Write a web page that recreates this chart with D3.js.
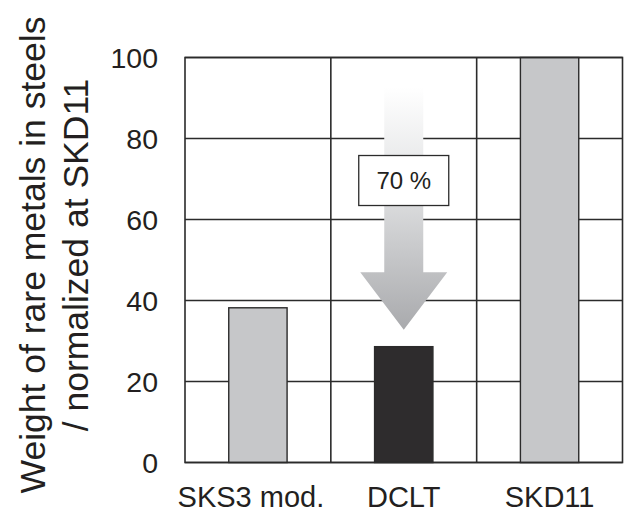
<!DOCTYPE html>
<html>
<head>
<meta charset="utf-8">
<script src="https://cdn.jsdelivr.net/npm/d3@7"></script>
<style>
  html, body { margin: 0; padding: 0; background: #fff; }
  svg { display: block; }
  text { font-family: "Liberation Sans", Arial, Helvetica, sans-serif; fill: #231f20; }
</style>
</head>
<body>
<svg id="chart" width="629" height="514"></svg>
<script>
// Steel grades and their rare-metal weight, normalized to SKD11 = 100
const categories = ["SKS3 mod.", "DCLT", "SKD11"];
const values = [38.2, 28.6, 100];
const barColors = ["#c6c7c9", "#2e2c2d", "#c6c7c9"];
const yTicks = [0, 20, 40, 60, 80, 100];
const reductionLabel = "70 %";
const yTitleLines = ["Weight of rare metals in steels", "/ normalized at SKD11"];

(function () {
  const svg = d3.select("#chart");
  const plotLeft = 185, plotRight = 622.5, plotTop = 57.5, plotBottom = 462.5;
  const ink = "#2b2b2b";

  const x = d3.scaleBand().domain(categories).range([plotLeft, plotRight]).padding(0);
  const y = d3.scaleLinear().domain([0, 100]).range([plotBottom, plotTop]);

  // horizontal grid
  svg.append("g").selectAll("line").data(yTicks).join("line")
    .attr("x1", plotLeft).attr("x2", plotRight)
    .attr("y1", d => y(d)).attr("y2", d => y(d))
    .attr("stroke", ink).attr("stroke-width", 1.6);

  // column separators
  svg.append("g").selectAll("line").data(categories.slice(1)).join("line")
    .attr("x1", d => x(d)).attr("x2", d => x(d))
    .attr("y1", plotTop).attr("y2", plotBottom)
    .attr("stroke", ink).attr("stroke-width", 1.6);

  // reduction arrow over the DCLT column
  const defs = svg.append("defs");
  const grad = defs.append("linearGradient").attr("id", "arrowFill")
    .attr("x1", 0).attr("y1", 0).attr("x2", 0).attr("y2", 1);
  grad.append("stop").attr("offset", "0%").attr("stop-color", "#ffffff");
  grad.append("stop").attr("offset", "35%").attr("stop-color", "#e6e7e8");
  grad.append("stop").attr("offset", "100%").attr("stop-color", "#a9aaad");

  const ac = x("DCLT") + x.bandwidth() / 2;
  const shaftHalf = 19.5, headHalf = 43.5;
  const aTop = y(92.7), aHeadStart = y(47), aTip = y(32.8);
  svg.append("path")
    .attr("d", [
      "M", ac - shaftHalf, aTop,
      "L", ac + shaftHalf, aTop,
      "L", ac + shaftHalf, aHeadStart,
      "L", ac + headHalf, aHeadStart,
      "L", ac, aTip,
      "L", ac - headHalf, aHeadStart,
      "L", ac - shaftHalf, aHeadStart, "Z"].join(" "))
    .attr("fill", "url(#arrowFill)");

  // bars
  const barW = x.bandwidth() * 0.4;
  svg.append("g").selectAll("rect").data(values).join("rect")
    .attr("x", (d, i) => x(categories[i]) + (x.bandwidth() - barW) / 2)
    .attr("width", barW)
    .attr("y", d => y(d))
    .attr("height", d => y(0) - y(d))
    .attr("fill", (d, i) => barColors[i])
    .attr("stroke", ink).attr("stroke-width", 1.4);

  // outer frame
  svg.append("rect")
    .attr("x", plotLeft).attr("y", plotTop)
    .attr("width", plotRight - plotLeft).attr("height", plotBottom - plotTop)
    .attr("fill", "none").attr("stroke", ink).attr("stroke-width", 1.6);

  // reduction label box
  const boxW = 90, boxH = 50, boxTop = y(75.8);
  svg.append("rect")
    .attr("x", ac - boxW / 2).attr("y", boxTop)
    .attr("width", boxW).attr("height", boxH)
    .attr("fill", "#fff").attr("stroke", ink).attr("stroke-width", 1.3);
  svg.append("text")
    .attr("x", ac).attr("y", boxTop + boxH / 2 + 8.5)
    .attr("text-anchor", "middle")
    .attr("font-size", 24)
    .text(reductionLabel);

  // y tick labels
  svg.append("g").selectAll("text").data(yTicks).join("text")
    .attr("x", 158).attr("y", d => y(d) + 10.5)
    .attr("text-anchor", "end")
    .attr("font-size", 28.5)
    .text(d => d);

  // x category labels
  const xLabelShift = [-7, 0, 0];
  svg.append("g").selectAll("text").data(categories).join("text")
    .attr("x", (d, i) => x(d) + x.bandwidth() / 2 + xLabelShift[i])
    .attr("y", 507)
    .attr("text-anchor", "middle")
    .attr("font-size", 29)
    .text(d => d);

  // y axis title, two rotated lines
  const titleG = svg.append("g").attr("transform", "translate(0,255) rotate(-90)");
  titleG.selectAll("text").data(yTitleLines).join("text")
    .attr("x", 0)
    .attr("y", (d, i) => 45 + i * 43)
    .attr("text-anchor", "middle")
    .attr("font-size", 35.5)
    .text(d => d);
})();
</script>
</body>
</html>
